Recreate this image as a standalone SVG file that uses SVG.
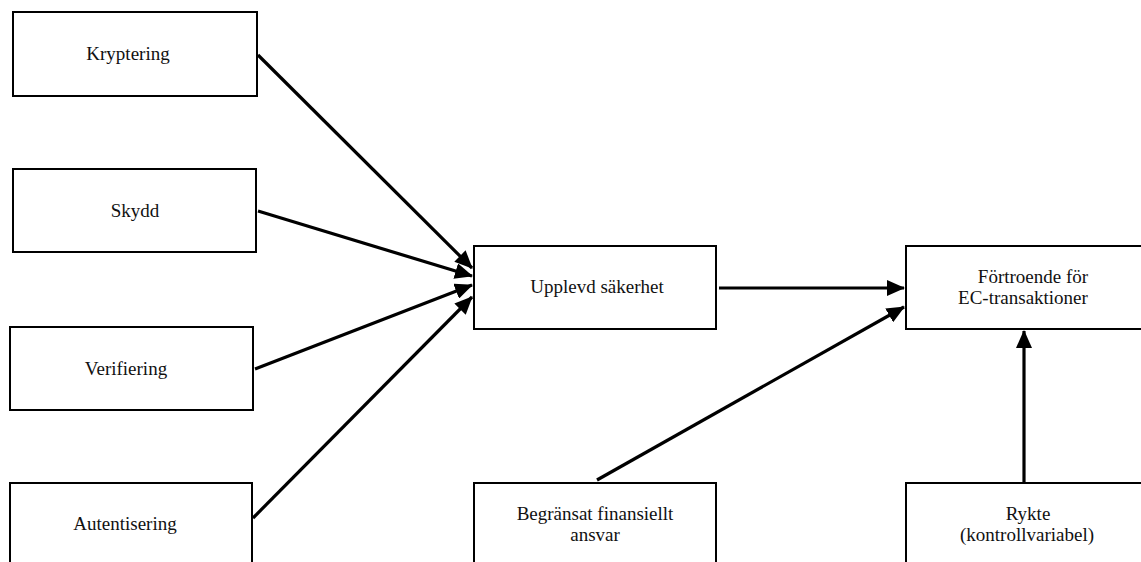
<svg xmlns="http://www.w3.org/2000/svg" width="1141" height="562" viewBox="0 0 1141 562">
<style>
.box{fill:#fff;stroke:#000;stroke-width:2}
.t{font-family:'Liberation Serif','Times New Roman',serif;font-size:19px;fill:#111;text-anchor:middle}
.c{stroke:#000;stroke-width:3.2;fill:none;marker-end:url(#ah)}
</style>
<defs>
<marker id="ah" markerUnits="userSpaceOnUse" markerWidth="18" markerHeight="16" viewBox="0 0 18 16" refX="17" refY="8" orient="auto">
<path d="M0,0 L18,8 L0,16 Z" fill="#000"/>
</marker>
</defs>
<rect width="1141" height="562" fill="#fff"/>
<g id="connectors">
<line class="c" x1="258" y1="55" x2="472" y2="268"/>
<line class="c" x1="258" y1="211" x2="472" y2="276"/>
<line class="c" x1="255" y1="369" x2="472" y2="285"/>
<line class="c" x1="253" y1="518" x2="472" y2="297"/>
<line class="c" x1="719" y1="288" x2="904" y2="288"/>
<line class="c" x1="597" y1="480" x2="904" y2="307"/>
<line class="c" x1="1024" y1="483" x2="1024" y2="331"/>
</g>
<g id="kryptering"><rect class="box" x="13" y="12" width="244" height="84"/><text class="t" x="128" y="60">Kryptering</text></g>
<g id="skydd"><rect class="box" x="13" y="169" width="243" height="83"/><text class="t" x="135" y="217">Skydd</text></g>
<g id="verifiering"><rect class="box" x="10" y="327" width="243" height="83"/><text class="t" x="126" y="375">Verifiering</text></g>
<g id="autentisering"><rect class="box" x="10" y="483" width="242" height="90"/><text class="t" x="125" y="530">Autentisering</text></g>
<g id="upplevd"><rect class="box" x="474" y="246" width="242" height="83"/><text class="t" x="597" y="293">Upplevd säkerhet</text></g>
<g id="fortroende"><rect class="box" x="906" y="246" width="240" height="83"/><text class="t" x="1033" y="283">Förtroende för</text><text class="t" x="1023" y="304">EC-transaktioner</text></g>
<g id="begransat"><rect class="box" x="474" y="483" width="242" height="90"/><text class="t" x="595" y="520">Begränsat finansiellt</text><text class="t" x="595" y="541">ansvar</text></g>
<g id="rykte"><rect class="box" x="906" y="483" width="240" height="90"/><text class="t" x="1028" y="520">Rykte</text><text class="t" x="1027" y="541">(kontrollvariabel)</text></g>
</svg>
